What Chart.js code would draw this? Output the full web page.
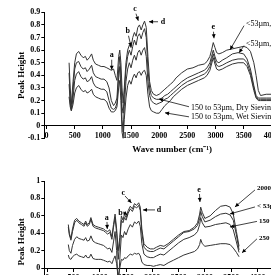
<!DOCTYPE html>
<html>
<head>
<meta charset="utf-8">
<script src="https://cdn.jsdelivr.net/npm/chart.js@4.4.1/dist/chart.umd.min.js"></script>
<style>
  html, body { margin: 0; padding: 0; background: #fff; }
  body { width: 271px; height: 275px; overflow: hidden; position: relative; }
  canvas { position: absolute; left: 0; }
  #topChart { top: 0; }
  #bottomChart { top: 160px; }
</style>
</head>
<body>
<canvas id="topChart" width="320" height="160"></canvas>
<canvas id="bottomChart" width="320" height="160"></canvas>
<script>
// ----- Data: upper panel (sieving comparison) -----
const topWave = [400, 420, 440, 470, 500, 530, 570, 610, 650, 690, 720, 760, 800, 830, 870, 920, 970, 1020, 1070, 1110,
  1150, 1190, 1220, 1250, 1280, 1300, 1320, 1340, 1360, 1380, 1410, 1440, 1470, 1500, 1530, 1560, 1590, 1620, 1650, 1680,
  1710, 1740, 1770, 1800, 1830, 1860, 1900, 1950, 2000, 2050, 2100, 2150, 2200, 2250, 2300, 2400, 2500, 2600, 2700, 2800,
  2850, 2900, 2930, 2960, 2990, 3020, 3060, 3120, 3200, 3300, 3400, 3500, 3560, 3620, 3680, 3720, 3760, 3800, 3900, 4000];

const fineDry = [0.50, 0.30, 0.17, 0.35, 0.50, 0.57, 0.59, 0.56, 0.54, 0.55, 0.52, 0.54, 0.57, 0.52, 0.49, 0.48, 0.47, 0.47, 0.46, 0.45,
  0.44, 0.45, 0.40, 0.36, 0.55, 0.60, 0.50, 0.30, 0.18, 0.30, 0.50, 0.60, 0.64, 0.62, 0.70, 0.74, 0.71, 0.78, 0.80, 0.76,
  0.80, 0.83, 0.78, 0.55, 0.35, 0.28, 0.25, 0.24, 0.25, 0.27, 0.29, 0.31, 0.33, 0.35, 0.38, 0.42, 0.45, 0.46, 0.48, 0.49,
  0.51, 0.55, 0.60, 0.66, 0.62, 0.58, 0.57, 0.58, 0.60, 0.61, 0.62, 0.63, 0.62, 0.59, 0.50, 0.40, 0.28, 0.24, 0.25, 0.25];

const fineWet = [0.42, 0.22, 0.13, 0.28, 0.45, 0.50, 0.51, 0.47, 0.45, 0.46, 0.43, 0.45, 0.48, 0.42, 0.39, 0.38, 0.37, 0.37, 0.35, 0.30,
  0.20, 0.16, 0.18, 0.22, 0.45, 0.55, 0.40, 0.15, 0.10, 0.25, 0.45, 0.55, 0.60, 0.56, 0.63, 0.68, 0.64, 0.71, 0.73, 0.69,
  0.74, 0.77, 0.70, 0.45, 0.30, 0.24, 0.22, 0.21, 0.21, 0.22, 0.24, 0.25, 0.27, 0.29, 0.31, 0.35, 0.38, 0.40, 0.42, 0.44,
  0.46, 0.50, 0.55, 0.60, 0.55, 0.51, 0.50, 0.52, 0.54, 0.57, 0.58, 0.57, 0.53, 0.45, 0.32, 0.24, 0.22, 0.22, 0.22, 0.22];

const midDry = [0.33, 0.18, 0.12, 0.22, 0.36, 0.41, 0.43, 0.39, 0.37, 0.38, 0.35, 0.36, 0.39, 0.34, 0.31, 0.30, 0.29, 0.29, 0.27, 0.20,
  0.14, 0.13, 0.14, 0.18, 0.38, 0.47, 0.30, 0.05, -0.05, 0.15, 0.35, 0.45, 0.50, 0.46, 0.52, 0.56, 0.52, 0.58, 0.60, 0.56,
  0.60, 0.62, 0.55, 0.35, 0.24, 0.20, 0.18, 0.17, 0.18, 0.19, 0.21, 0.22, 0.24, 0.26, 0.28, 0.32, 0.35, 0.37, 0.39, 0.41,
  0.43, 0.47, 0.52, 0.57, 0.52, 0.48, 0.47, 0.48, 0.50, 0.52, 0.53, 0.53, 0.50, 0.42, 0.30, 0.23, 0.21, 0.21, 0.21, 0.21];

const midWet = [0.23, 0.15, 0.12, 0.17, 0.26, 0.30, 0.32, 0.29, 0.27, 0.28, 0.26, 0.27, 0.29, 0.25, 0.23, 0.22, 0.21, 0.21, 0.19, 0.14,
  0.11, 0.11, 0.12, 0.15, 0.30, 0.36, 0.20, -0.05, -0.10, 0.05, 0.22, 0.32, 0.36, 0.33, 0.38, 0.41, 0.38, 0.42, 0.43, 0.40,
  0.43, 0.44, 0.40, 0.25, 0.15, 0.12, 0.11, 0.10, 0.10, 0.13, 0.16, 0.18, 0.20, 0.23, 0.25, 0.29, 0.32, 0.34, 0.36, 0.38,
  0.40, 0.44, 0.49, 0.54, 0.49, 0.45, 0.44, 0.45, 0.47, 0.49, 0.50, 0.50, 0.47, 0.40, 0.28, 0.22, 0.20, 0.20, 0.20, 0.20];

// ----- Data: lower panel (size fractions) -----
const botWave = [400, 420, 450, 480, 520, 560, 600, 650, 700, 730, 760, 800, 830, 870, 920, 970, 1020, 1070, 1110, 1150,
  1190, 1230, 1260, 1290, 1320, 1350, 1380, 1410, 1440, 1470, 1500, 1540, 1580, 1620, 1660, 1700, 1740, 1770, 1800, 1840,
  1900, 1960, 2020, 2080, 2150, 2220, 2300, 2400, 2500, 2600, 2700, 2800, 2860, 2900, 2920, 2950, 3000, 3100, 3200, 3300,
  3400, 3480, 3540, 3600, 3650];

const frac2000 = [0.50, 0.40, 0.34, 0.45, 0.55, 0.57, 0.54, 0.52, 0.50, 0.54, 0.50, 0.52, 0.58, 0.50, 0.48, 0.47, 0.46, 0.45, 0.43, 0.42,
  0.44, 0.36, 0.50, 0.62, 0.45, 0.20, 0.35, 0.60, 0.55, 0.62, 0.58, 0.66, 0.71, 0.68, 0.74, 0.72, 0.75, 0.70, 0.45, 0.28,
  0.24, 0.22, 0.22, 0.24, 0.26, 0.25, 0.28, 0.33, 0.38, 0.42, 0.43, 0.47, 0.52, 0.62, 0.70, 0.64, 0.57, 0.60, 0.66, 0.71,
  0.72, 0.70, 0.62, 0.42, 0.25];

const frac53 = [0.47, 0.38, 0.32, 0.42, 0.52, 0.55, 0.52, 0.50, 0.48, 0.52, 0.48, 0.50, 0.56, 0.48, 0.46, 0.45, 0.44, 0.43, 0.41, 0.39,
  0.41, 0.33, 0.47, 0.58, 0.40, 0.10, 0.30, 0.55, 0.52, 0.58, 0.55, 0.63, 0.68, 0.65, 0.71, 0.69, 0.72, 0.66, 0.40, 0.24,
  0.20, 0.19, 0.19, 0.21, 0.23, 0.22, 0.26, 0.31, 0.36, 0.41, 0.42, 0.45, 0.49, 0.57, 0.65, 0.59, 0.53, 0.55, 0.59, 0.62,
  0.63, 0.61, 0.55, 0.38, 0.21];

const frac150 = [0.27, 0.20, 0.17, 0.26, 0.33, 0.36, 0.34, 0.33, 0.32, 0.35, 0.31, 0.32, 0.37, 0.31, 0.29, 0.28, 0.27, 0.26, 0.24, 0.22,
  0.23, 0.18, 0.30, 0.42, 0.20, -0.25, 0.10, 0.38, 0.35, 0.42, 0.38, 0.45, 0.50, 0.47, 0.53, 0.51, 0.54, 0.48, 0.28, 0.16,
  0.13, 0.12, 0.12, 0.14, 0.16, 0.15, 0.19, 0.24, 0.29, 0.33, 0.35, 0.38, 0.42, 0.50, 0.58, 0.52, 0.47, 0.48, 0.50, 0.51,
  0.52, 0.50, 0.44, 0.30, 0.18];

const frac250 = [0.15, 0.11, 0.10, 0.13, 0.15, 0.16, 0.14, 0.13, 0.12, 0.15, 0.12, 0.12, 0.16, 0.11, 0.10, 0.10, 0.10, 0.09, 0.08, 0.07,
  0.08, 0.05, 0.10, 0.14, 0.05, -0.10, 0.00, 0.10, 0.09, 0.12, 0.11, 0.14, 0.16, 0.15, 0.17, 0.16, 0.17, 0.14, 0.07, 0.04,
  0.03, 0.03, 0.02, 0.03, 0.04, 0.03, 0.06, 0.09, 0.12, 0.15, 0.17, 0.19, 0.22, 0.27, 0.33, 0.28, 0.25, 0.26, 0.27, 0.28,
  0.28, 0.27, 0.23, 0.18, 0.13];

const waveTicks = [0, 500, 1000, 1500, 2000, 2500, 3000, 3500, 4000, 4500];

// labels and arrows, in data units of each panel
const topNotes = [
  { text: 'a', tx: 1157, ty: 0.563, x1: 1157, y1: 0.524, x2: 1157, y2: 0.444, bold: true, align: 'center' },
  { text: 'b', tx: 1441, ty: 0.754, x1: 1455, y1: 0.714, x2: 1500, y2: 0.627, bold: true, align: 'center' },
  { text: 'c', tx: 1570, ty: 0.929, x1: 1588, y1: 0.889, x2: 1629, y2: 0.833, bold: true, align: 'center' },
  { text: 'd', tx: 2068, ty: 0.825, x1: 1979, y1: 0.825, x2: 1819, y2: 0.825, bold: true, align: 'center' },
  { text: 'e', tx: 2961, ty: 0.782, x1: 2964, y1: 0.746, x2: 2973, y2: 0.694, bold: true, align: 'center' },
  { text: '<53µm, Dry Sieving', tx: 3541, ty: 0.81, x1: 3506, y1: 0.794, x2: 3258, y2: 0.603, align: 'left' },
  { text: '<53µm, Wet Sieving', tx: 3541, ty: 0.651, x1: 3506, y1: 0.635, x2: 3417, y2: 0.579, align: 'left' },
  { text: '150 to 53µm, Dry Sieving', tx: 2565, ty: 0.143, x1: 2529, y1: 0.151, x2: 1997, y2: 0.212, align: 'left' },
  { text: '150 to 53µm, Wet Sieving', tx: 2565, ty: 0.069, x1: 2529, y1: 0.071, x2: 2103, y2: 0.103, align: 'left' }
];

const bottomNotes = [
  { text: 'a', tx: 1131, ty: 0.576, x1: 1136, y1: 0.530, x2: 1142, y2: 0.450, bold: true, align: 'center' },
  { text: 'b', tx: 1393, ty: 0.633, x1: 1441, y1: 0.645, x2: 1526, y2: 0.61, bold: true, align: 'center' },
  { text: 'c', tx: 1447, ty: 0.868, x1: 1479, y1: 0.828, x2: 1603, y2: 0.748, bold: true, align: 'center' },
  { text: 'd', tx: 2126, ty: 0.668, x1: 2050, y1: 0.668, x2: 1821, y2: 0.668, bold: true, align: 'center' },
  { text: 'e', tx: 2887, ty: 0.897, x1: 2897, y1: 0.851, x2: 2906, y2: 0.759, bold: true, align: 'center' },
  { text: '2000 to 250µm', tx: 3991, ty: 0.914, x1: 3953, y1: 0.897, x2: 3572, y2: 0.702, bold: true, size: 7, align: 'left' },
  { text: '< 53µm', tx: 3991, ty: 0.714, x1: 3953, y1: 0.702, x2: 3477, y2: 0.622, bold: true, size: 7, align: 'left' },
  { text: '150 to 53µm', tx: 4029, ty: 0.542, x1: 3991, y1: 0.536, x2: 3477, y2: 0.473, bold: true, size: 7, align: 'left' },
  { text: '250 to 150µm', tx: 4029, ty: 0.347, x1: 3991, y1: 0.336, x2: 3706, y2: 0.175, bold: true, size: 7, align: 'left' }
];

const SERIF = "'Liberation Serif', 'Times New Roman', serif";

function arrowTo(ctx, x1, y1, x2, y2) {
  const a = Math.atan2(y2 - y1, x2 - x1);
  ctx.beginPath();
  ctx.moveTo(x1, y1);
  ctx.lineTo(x2, y2);
  ctx.stroke();
  ctx.beginPath();
  ctx.moveTo(x2, y2);
  ctx.lineTo(x2 - 4.5 * Math.cos(a - 0.45), y2 - 4.5 * Math.sin(a - 0.45));
  ctx.lineTo(x2 - 4.5 * Math.cos(a + 0.45), y2 - 4.5 * Math.sin(a + 0.45));
  ctx.closePath();
  ctx.fill();
}

// draws the letter marks and the leader-line labels
const notesPlugin = {
  id: 'notes',
  afterDatasetsDraw(chart, args, opts) {
    const { ctx } = chart;
    const xs = chart.scales.x, ys = chart.scales.y;
    ctx.save();
    ctx.strokeStyle = '#111';
    ctx.fillStyle = '#000';
    ctx.lineWidth = 0.8;
    ctx.textBaseline = 'middle';
    opts.items.forEach(n => {
      arrowTo(ctx, xs.getPixelForValue(n.x1), ys.getPixelForValue(n.y1),
        xs.getPixelForValue(n.x2), ys.getPixelForValue(n.y2));
      ctx.font = (n.bold ? 'bold ' : '') + (n.size || 8) + 'px ' + SERIF;
      ctx.textAlign = n.align;
      ctx.fillText(n.text, xs.getPixelForValue(n.tx), ys.getPixelForValue(n.ty));
    });
    ctx.restore();
  }
};

function toPoints(wave, vals) {
  return wave.map((w, i) => ({ x: w, y: vals[i] }));
}

function lineSet(wave, vals) {
  return {
    data: toPoints(wave, vals),
    borderColor: '#333',
    borderWidth: 1,
    pointRadius: 0,
    tension: 0,
    fill: false
  };
}

function makeOptions(cfg) {
  const tickFont = { family: SERIF, size: 8, weight: 'bold' };
  const titleFont = { family: SERIF, size: 9, weight: 'bold' };
  return {
    responsive: false,
    animation: false,
    layout: { padding: cfg.padding },
    plugins: {
      legend: { display: false },
      tooltip: { enabled: false },
      notes: { items: cfg.notes }
    },
    scales: {
      x: {
        type: 'linear',
        min: cfg.xMin,
        max: 4500,
        position: { y: 0 },
        afterBuildTicks: s => { s.ticks = waveTicks.map(v => ({ value: v })); },
        grid: { display: true, drawOnChartArea: false, drawTicks: true, tickLength: 3, color: '#000' },
        border: { color: '#000', width: 1 },
        ticks: { font: tickFont, color: '#000', padding: 2, maxRotation: 0, autoSkip: false, callback: v => String(v) },
        title: { display: true, text: 'Wave number (cm⁻¹)', font: titleFont, color: '#000', padding: { top: 2, bottom: 0 } }
      },
      y: {
        type: 'linear',
        min: cfg.yMin,
        max: cfg.yMax,
        afterFit: s => { s.width = 44.3; },
        grid: { display: true, drawOnChartArea: false, drawTicks: true, tickLength: 3, color: '#000' },
        border: { color: '#000', width: 1 },
        ticks: { stepSize: cfg.yStep, font: tickFont, color: '#000', padding: 1, callback: v => String(+v.toFixed(1)) },
        title: { display: true, text: 'Peak Height', font: titleFont, color: '#000', padding: { top: 16, bottom: 0 } }
      }
    }
  };
}

new Chart(document.getElementById('topChart').getContext('2d'), {
  type: 'line',
  data: {
    datasets: [
      lineSet(topWave, fineDry),
      lineSet(topWave, fineWet),
      lineSet(topWave, midDry),
      lineSet(topWave, midWet)
    ]
  },
  options: makeOptions({
    padding: { left: 0, top: 12.3, right: 20, bottom: 21.6 },
    notes: topNotes, xMin: -40, yMin: -0.1, yMax: 0.9, yStep: 0.1
  }),
  plugins: [notesPlugin]
});

new Chart(document.getElementById('bottomChart').getContext('2d'), {
  type: 'line',
  data: {
    datasets: [
      lineSet(botWave, frac2000),
      lineSet(botWave, frac53),
      lineSet(botWave, frac150),
      lineSet(botWave, frac250)
    ]
  },
  options: makeOptions({
    padding: { left: 0, top: 21, right: 36.3, bottom: 17.1 },
    notes: bottomNotes, xMin: -57, yMin: -0.4, yMax: 1, yStep: 0.2
  }),
  plugins: [notesPlugin]
});
</script>
</body>
</html>
